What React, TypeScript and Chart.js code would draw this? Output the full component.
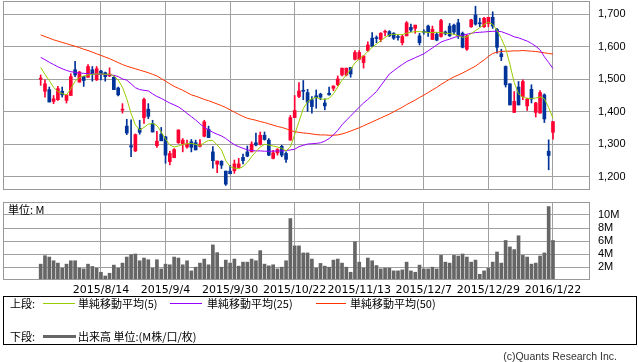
import React, { useEffect, useRef } from "react";
import { Chart, registerables } from "chart.js";

Chart.register(...registerables);

// ---- data (index 0 = 2015/7/27, index 119 = 2016/1/22) ----
const dateLabels = ["2015/8/14", "2015/9/4", "2015/9/30", "2015/10/22", "2015/11/13", "2015/12/7", "2015/12/29", "2016/1/22"];
const dateTickIdx = [14, 29, 44, 59, 74, 89, 104, 119];

const openP = [1500,1463,1468,1432,1437,1463,1435,1450,1529,1491,1508,1506,1529,1498,1525,1520,1510,1506,1473,1405,
  1356,1296,1280,1349,1382,1408,1364,1296,1331,1323,1247,1259,1305,1301,1292,1308,1305,1294,1325,1346,
  1277,1239,1248,1218,1218,1219,1229,1260,1277,1277,1305,1300,1328,1313,1257,1274,1294,1272,1313,1382,
  1447,1465,1459,1437,1449,1454,1427,1457,1472,1483,1513,1513,1536,1561,1561,1551,1588,1626,1627,1622,
  1644,1646,1641,1630,1612,1633,1659,1656,1633,1647,1663,1622,1638,1631,1645,1663,1666,1673,1641,1592,
  1661,1697,1672,1661,1671,1690,1653,1578,1539,1486,1398,1476,1447,1418,1469,1398,1396,1452,1279,1337];
const highP = [1513,1498,1476,1450,1478,1476,1452,1517,1555,1524,1508,1545,1539,1539,1527,1522,1535,1508,1476,1425,
  1377,1375,1332,1374,1442,1425,1374,1340,1352,1325,1279,1287,1345,1318,1313,1315,1313,1315,1374,1356,
  1293,1249,1250,1218,1236,1252,1257,1270,1295,1308,1335,1338,1338,1318,1282,1287,1297,1277,1389,1450,
  1490,1496,1469,1447,1467,1457,1440,1476,1480,1510,1534,1534,1536,1588,1588,1572,1615,1643,1633,1643,
  1651,1649,1643,1636,1636,1677,1669,1666,1641,1652,1666,1663,1643,1684,1648,1671,1669,1684,1645,1636,
  1684,1724,1687,1690,1690,1707,1656,1592,1541,1486,1462,1493,1498,1442,1483,1429,1465,1455,1314,1370];
const lowP = [1481,1445,1430,1425,1435,1445,1427,1450,1508,1491,1478,1506,1494,1496,1498,1494,1508,1468,1449,1396,
  1330,1262,1278,1331,1364,1379,1338,1291,1311,1242,1237,1259,1303,1277,1288,1277,1283,1292,1323,1321,
  1227,1213,1226,1174,1209,1211,1228,1240,1262,1277,1295,1298,1313,1265,1255,1267,1262,1245,1313,1382,
  1443,1437,1401,1396,1411,1437,1406,1451,1465,1480,1510,1510,1506,1559,1560,1534,1585,1600,1612,1615,
  1633,1631,1622,1620,1605,1633,1646,1641,1605,1638,1631,1622,1618,1629,1636,1631,1638,1625,1596,1588,
  1659,1666,1661,1659,1661,1656,1580,1557,1476,1421,1398,1421,1437,1404,1427,1384,1396,1367,1222,1316];
const closeP = [1502,1486,1430,1440,1471,1452,1452,1508,1513,1522,1496,1539,1517,1532,1515,1508,1516,1468,1452,1408,
  1335,1292,1330,1337,1438,1386,1338,1310,1311,1267,1272,1284,1344,1313,1301,1291,1283,1301,1369,1321,
  1250,1249,1236,1178,1210,1240,1240,1250,1264,1301,1298,1328,1315,1267,1274,1284,1267,1254,1382,1404,
  1464,1463,1429,1416,1443,1445,1418,1452,1479,1501,1534,1534,1516,1582,1582,1571,1605,1602,1625,1641,
  1646,1633,1626,1628,1631,1673,1651,1666,1612,1644,1643,1653,1620,1680,1639,1633,1645,1633,1598,1633,
  1682,1669,1670,1687,1690,1663,1598,1569,1483,1421,1432,1421,1493,1439,1439,1427,1459,1378,1266,1370];

const ma5 = [1536,1515,1496,1475,1462,1456,1452,1470,1494,1505,1510,1513,1515,1516,1516,1515,1515,1510,1498,1475,
  1440,1395,1360,1344,1352,1362,1364,1358,1338,1316,1298,1292,1295,1300,1302,1303,1300,1296,1305,1312,
  1312,1298,1283,1250,1232,1227,1225,1232,1245,1262,1278,1292,1300,1298,1295,1292,1288,1280,1292,1330,
  1370,1410,1431,1440,1444,1440,1438,1441,1455,1476,1497,1513,1530,1550,1562,1572,1585,1598,1608,1618,
  1628,1636,1638,1637,1637,1641,1644,1646,1646,1645,1643,1643,1644,1643,1641,1640,1638,1633,1629,1630,
  1640,1649,1658,1668,1675,1668,1650,1625,1595,1545,1490,1455,1445,1441,1441,1442,1446,1440,1413,1380];
const ma25 = [1567,1560,1552,1545,1538,1532,1527,1523,1521,1519,1518,1517,1516,1515,1515,1514,1513,1512,1508,1501,
  1497,1486,1474,1468,1466,1464,1455,1447,1441,1434,1427,1421,1415,1406,1395,1385,1375,1363,1352,1345,
  1337,1331,1326,1318,1308,1299,1293,1288,1283,1281,1280,1280,1279,1279,1279,1280,1280,1281,1283,1285,
  1293,1297,1301,1302,1303,1305,1310,1318,1329,1343,1360,1374,1387,1401,1414,1427,1438,1450,1462,1480,
  1498,1516,1526,1536,1545,1554,1560,1566,1572,1578,1587,1596,1605,1614,1619,1623,1628,1632,1635,1638,
  1641,1643,1644,1645,1646,1647,1647,1646,1641,1636,1630,1627,1622,1617,1610,1601,1590,1569,1551,1533];
const ma50 = [1636,1631,1626,1621,1617,1613,1609,1605,1601,1597,1592,1588,1583,1578,1573,1568,1563,1557,1551,1545,
  1540,1536,1532,1528,1524,1520,1515,1510,1502,1494,1486,1478,1472,1466,1459,1452,1448,1443,1438,1434,
  1429,1424,1419,1413,1406,1399,1392,1386,1380,1377,1374,1370,1367,1363,1359,1355,1352,1348,1343,1339,
  1337,1335,1334,1332,1330,1329,1329,1328,1328,1329,1332,1336,1341,1346,1351,1357,1363,1369,1375,1381,
  1387,1393,1400,1407,1414,1422,1429,1436,1444,1451,1459,1467,1475,1484,1492,1500,1507,1513,1519,1526,
  1533,1540,1550,1559,1570,1579,1583,1585,1586,1586,1587,1587,1588,1587,1586,1585,1583,1581,1579,1577];

const volumeM = [2.44,3.74,3.53,2.96,2.6,1.82,2.44,2.96,2.96,1.82,1.71,2.44,2.08,1.82,1.19,0.62,1.04,2.29,1.82,2.6,
  3.53,3.9,4.0,2.96,3.38,3.12,1.82,3.12,1.71,2.44,2.34,3.53,3.38,2.34,2.96,1.4,1.97,2.6,3.22,2.34,
  5.4,4.21,1.97,3.06,2.6,3.22,2.13,2.75,2.75,3.22,2.96,4.52,2.44,2.18,2.34,1.71,1.97,2.96,9.45,5.25,
  5.25,4.16,4.16,3.22,1.82,2.55,2.13,1.97,3.06,3.22,2.6,1.97,1.19,5.87,2.75,1.82,3.38,2.96,2.23,1.71,
  1.82,1.82,1.4,1.4,1.56,2.75,1.4,1.19,2.29,1.71,1.71,1.97,1.71,3.79,2.75,2.6,3.79,3.69,4.0,3.53,
  2.75,3.06,0.88,1.4,1.82,2.75,4.31,2.6,6.08,5.09,4.68,6.81,3.79,3.53,2.44,2.6,3.69,4.16,11.3,6.08];

const priceTicks = [1200, 1300, 1400, 1500, 1600, 1700];
const volumeTicks = [2, 4, 6, 8, 10];

// ---- styles ----
const GRID = "#a0a0a0";
const RED = "#ff0033";
const BLUE = "#003399";
const AXIS_FONT = { family: "'Liberation Sans', Arial, sans-serif", size: 11 };
const DATE_FONT = { family: "'DejaVu Sans', sans-serif", size: 11 };
const CJK = "'Noto Sans CJK JP', 'Noto Sans', sans-serif";
const X_MIN = -8.75;
const X_MAX = 127.6;

const framePlugin = {
  id: "frame",
  afterDraw(chart: any) {
    const { ctx, chartArea: a } = chart;
    ctx.save();
    ctx.strokeStyle = "#999999";
    ctx.lineWidth = 1;
    const l = Math.round(a.left) + 0.5;
    const t = Math.round(a.top) + 0.5;
    const r = Math.round(a.right) - 0.5;
    const b = Math.round(a.bottom) - 0.5;
    ctx.strokeRect(l, t, r - l, b - t);
    ctx.restore();
  },
};

function xScale(showLabels: boolean, height: number) {
  return {
    type: "linear",
    min: X_MIN,
    max: X_MAX,
    offset: false,
    grid: { offset: false, color: GRID, lineWidth: 1, drawTicks: false },
    border: { display: false },
    ticks: {
      display: showLabels,
      autoSkip: false,
      maxRotation: 0,
      minRotation: 0,
      padding: 4,
      color: "#000",
      font: DATE_FONT,
      callback: (v: any) => {
        const k = dateTickIdx.indexOf(Number(v));
        return k >= 0 ? dateLabels[k] : "";
      },
    },
    afterBuildTicks: (s: any) => {
      s.ticks = dateTickIdx.map((v) => ({ value: v }));
    },
    afterFit: (s: any) => {
      s.height = height;
      s.paddingLeft = 0;
      s.paddingRight = 0;
    },
  };
}

export default function App() {
  const priceRef = useRef<HTMLCanvasElement>(null);
  const volRef = useRef<HTMLCanvasElement>(null);

  useEffect(() => {
    const idx = openP.map((_, i) => i);
    const candleColors = idx.map((i) => (closeP[i] >= openP[i] ? RED : BLUE));
    const lineDs = (vals: number[], color: string) => ({
      type: "line",
      data: idx.map((i) => ({ x: i, y: vals[i] })),
      borderColor: color,
      borderWidth: 1,
      pointRadius: 0,
      tension: 0,
      fill: false,
      order: 0,
    });

    const priceChart = new Chart(priceRef.current as HTMLCanvasElement, {
      type: "bar",
      data: {
        datasets: [
          lineDs(ma5, "#99cc00"),
          lineDs(ma25, "#9900ff"),
          lineDs(ma50, "#ff3300"),
          {
            type: "bar",
            data: idx.map((i) => ({ x: i, y: [lowP[i], highP[i]] })),
            backgroundColor: candleColors,
            barThickness: 1,
            grouped: false,
            order: 2,
          },
          {
            type: "bar",
            data: idx.map((i) => ({ x: i, y: [openP[i], closeP[i]] })),
            backgroundColor: candleColors,
            barThickness: 3,
            minBarLength: 1,
            grouped: false,
            order: 1,
          },
        ] as any,
      },
      options: {
        animation: false,
        responsive: false,
        maintainAspectRatio: false,
        devicePixelRatio: 1,
        events: [],
        layout: { padding: { left: 3, top: 1, right: 0, bottom: 2 } },
        plugins: { legend: { display: false }, tooltip: { enabled: false } },
        scales: {
          x: xScale(false, 0) as any,
          y: {
            type: "linear",
            position: "right",
            min: 1160,
            max: 1740,
            grid: { color: GRID, lineWidth: 1, drawTicks: false },
            border: { display: false },
            ticks: {
              padding: 8,
              color: "#000",
              font: AXIS_FONT,
              callback: (v: any) => Number(v).toLocaleString("en-US"),
            },
            afterBuildTicks: (s: any) => {
              s.ticks = priceTicks.map((v) => ({ value: v }));
            },
            afterFit: (s: any) => {
              s.width = 48;
              s.paddingTop = 0;
              s.paddingBottom = 0;
            },
          } as any,
        },
      },
      plugins: [framePlugin],
    });

    const volChart = new Chart(volRef.current as HTMLCanvasElement, {
      type: "bar",
      data: {
        datasets: [
          {
            data: idx.map((i) => ({ x: i, y: volumeM[i] })),
            backgroundColor: "#666666",
            barThickness: 3,
            grouped: false,
          },
        ] as any,
      },
      options: {
        animation: false,
        responsive: false,
        maintainAspectRatio: false,
        devicePixelRatio: 1,
        events: [],
        layout: { padding: { left: 3, top: 12, right: 0, bottom: 0 } },
        plugins: { legend: { display: false }, tooltip: { enabled: false } },
        scales: {
          x: xScale(true, 20) as any,
          y: {
            type: "linear",
            position: "right",
            min: 0,
            max: 12,
            grid: { color: GRID, lineWidth: 1, drawTicks: false },
            border: { display: false },
            ticks: {
              padding: 8,
              color: "#000",
              font: AXIS_FONT,
              callback: (v: any) => `${v}M`,
            },
            afterBuildTicks: (s: any) => {
              s.ticks = volumeTicks.map((v) => ({ value: v }));
            },
            afterFit: (s: any) => {
              s.width = 48;
              s.paddingTop = 0;
              s.paddingBottom = 0;
            },
          } as any,
        },
      },
      plugins: [framePlugin],
    });

    return () => {
      priceChart.destroy();
      volChart.destroy();
    };
  }, []);

  const abs = (style: React.CSSProperties): React.CSSProperties => ({ position: "absolute", ...style });
  const legendText: React.CSSProperties = { fontFamily: CJK, fontSize: 11, color: "#000", lineHeight: "14px", whiteSpace: "nowrap" };

  return (
    <div style={{ position: "absolute", left: 0, top: 0, width: 638, height: 362, background: "#fff", overflow: "hidden" }}>
      <canvas ref={priceRef} width={638} height={192} style={abs({ left: 0, top: 0, width: 638, height: 192 })} />
      <canvas ref={volRef} width={638} height={110} style={abs({ left: 0, top: 190, width: 638, height: 110 })} />
      <div style={abs({ ...legendText, left: 8, top: 202 })}>単位: M</div>

      <div style={abs({ left: 3, top: 296, width: 632, height: 47, border: "1px solid #000" })} />
      <div style={abs({ ...legendText, left: 10, top: 296 })}>上段:</div>
      <div style={abs({ left: 43, top: 303, width: 32, height: 1, background: "#99cc00" })} />
      <div style={abs({ ...legendText, left: 78, top: 296 })}>単純移動平均(5)</div>
      <div style={abs({ left: 170, top: 303, width: 32, height: 1, background: "#9900ff" })} />
      <div style={abs({ ...legendText, left: 207, top: 296 })}>単純移動平均(25)</div>
      <div style={abs({ left: 316, top: 303, width: 30, height: 1, background: "#ff3300" })} />
      <div style={abs({ ...legendText, left: 350, top: 296 })}>単純移動平均(50)</div>

      <div style={abs({ ...legendText, left: 10, top: 329 })}>下段:</div>
      <div style={abs({ left: 43, top: 335, width: 33, height: 3, background: "#666666" })} />
      <div style={abs({ ...legendText, left: 78, top: 329 })}>出来高 単位:(M株/口/枚)</div>

      <div style={abs({ right: 21, top: 349, fontFamily: "'Liberation Sans', Arial, sans-serif", fontSize: 10.5, color: "#333", whiteSpace: "nowrap", lineHeight: "14px" })}>
        (c)Quants Research Inc.
      </div>
    </div>
  );
}
